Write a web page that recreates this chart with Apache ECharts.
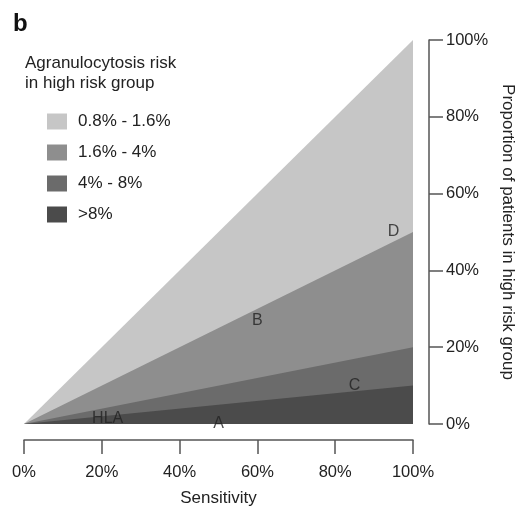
<!DOCTYPE html>
<html>
<head>
<meta charset="utf-8">
<script src="https://cdn.jsdelivr.net/npm/echarts@6/dist/echarts.min.js"></script>
<style>
  html, body { margin: 0; padding: 0; background: #fff; }
  #chart { width: 528px; height: 507px; }
</style>
</head>
<body>
<div id="chart"></div>
<script>
// Risk bands: proportion of patients in the high-risk group at 100% sensitivity
const bandNames = ['0.8% - 1.6%', '1.6% - 4%', '4% - 8%', '>8%'];
const bandTopAt100 = [100, 50, 20, 10];
const bandColors = ['#c6c6c6', '#8e8e8e', '#6b6b6b', '#4b4b4b'];

// Test markers placed inside the bands
const markerNames = ['D', 'B', 'C', 'HLA', 'A'];
const markerX = [95, 60, 85, 21.5, 50];
const markerY = [50, 27, 10, 1.5, 0];

const xTicks = [0, 20, 40, 60, 80, 100];
const yTicks = [0, 20, 40, 60, 80, 100];

const font = 'Liberation Sans, Arial, Helvetica, sans-serif';
const axisColor = '#555';

const bandSeries = bandNames.map((name, i) => ({
  name: name,
  type: 'line',
  data: [[0, 0], [100, bandTopAt100[i]]],
  symbol: 'none',
  lineStyle: { width: 0 },
  itemStyle: { color: bandColors[i] },
  areaStyle: { color: bandColors[i], opacity: 1 },
  silent: true,
  z: 2 + i
}));

const markerSeries = {
  type: 'scatter',
  symbolSize: 1,
  itemStyle: { color: 'rgba(0,0,0,0)' },
  data: markerNames.map((n, i) => ({ name: n, value: [markerX[i], markerY[i]] })),
  label: {
    show: true,
    position: 'inside',
    formatter: p => p.name,
    fontFamily: font,
    fontSize: 16,
    color: '#222'
  },
  silent: true,
  z: 10
};

const chart = echarts.init(document.getElementById('chart'), null, { renderer: 'canvas' });
chart.setOption({
  animation: false,
  backgroundColor: '#fff',
  title: [
    { text: 'b', left: 13, top: 12, padding: 0,
      textStyle: { fontFamily: font, fontSize: 24, fontWeight: 'bold', color: '#111' } },
    { text: 'Agranulocytosis risk\nin high risk group', left: 25, top: 53, padding: 0,
      textStyle: { fontFamily: font, fontSize: 17, fontWeight: 'normal', color: '#222', lineHeight: 20 } }
  ],
  legend: {
    orient: 'vertical',
    left: 47,
    top: 113,
    padding: 0,
    icon: 'rect',
    itemWidth: 20,
    itemHeight: 16,
    itemGap: 14,
    data: bandNames,
    selectedMode: false,
    textStyle: { fontFamily: font, fontSize: 17, color: '#222', padding: [0, 0, 0, 6] }
  },
  grid: { left: 24, top: 40, width: 389, height: 384, containLabel: false, outerBoundsMode: 'none' },
  xAxis: {
    type: 'value',
    min: 0, max: 100, interval: 20,
    offset: 16,
    name: 'Sensitivity',
    nameLocation: 'middle',
    nameGap: 50,
    nameTextStyle: { fontFamily: font, fontSize: 17, color: '#222' },
    axisLine: { show: true, onZero: false, lineStyle: { color: axisColor, width: 1.5 } },
    axisTick: { show: true, length: 14, lineStyle: { color: axisColor, width: 1.5 } },
    axisLabel: { margin: 24, fontFamily: font, fontSize: 16.5, color: '#222',
      formatter: v => xTicks.includes(v) ? v + '%' : '' },
    splitLine: { show: false }
  },
  yAxis: {
    type: 'value',
    position: 'right',
    min: 0, max: 100, interval: 20,
    offset: 16,
    name: 'Proportion of patients in high risk group',
    nameLocation: 'middle',
    nameRotate: -90,
    nameGap: 65,
    nameTextStyle: { fontFamily: font, fontSize: 17, color: '#222' },
    axisLine: { show: true, onZero: false, lineStyle: { color: axisColor, width: 1.5 } },
    axisTick: { show: true, length: 14, lineStyle: { color: axisColor, width: 1.5 } },
    axisLabel: { margin: 17, fontFamily: font, fontSize: 16.5, color: '#222',
      formatter: v => yTicks.includes(v) ? v + '%' : '' },
    splitLine: { show: false }
  },
  series: [...bandSeries, markerSeries]
});
</script>
</body>
</html>
